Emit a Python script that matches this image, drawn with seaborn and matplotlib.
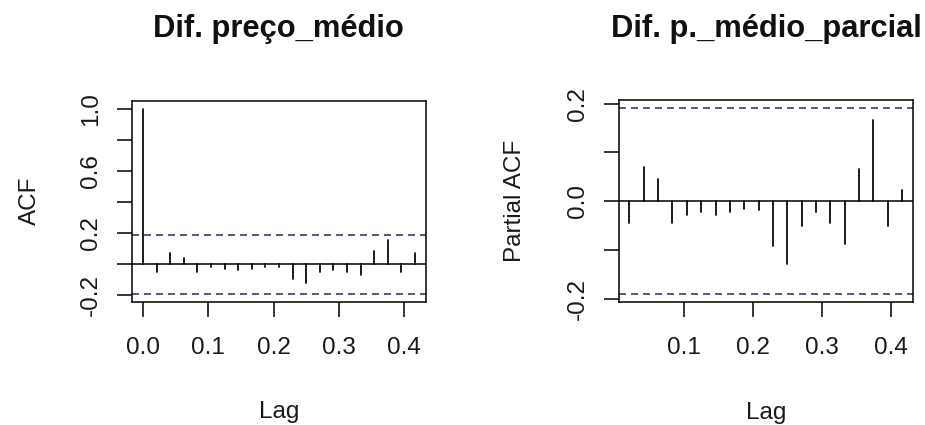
import numpy as np
import pandas as pd
import matplotlib
matplotlib.use("Agg")
import matplotlib.pyplot as plt
import seaborn as sns

# ---- data ----
frequency = 48
acf_lag_numbers = list(range(0, 21))
acf_values = [1.0, -0.049, 0.075, 0.043, -0.049, -0.019, -0.030, -0.039, -0.032, -0.019,
              -0.019, -0.092, -0.122, -0.049, -0.039, -0.049, -0.071, 0.086, 0.159, -0.049, 0.075]
pacf_lag_numbers = list(range(1, 21))
pacf_values = [-0.045, 0.071, 0.045, -0.045, -0.028, -0.022, -0.028, -0.022, -0.015, -0.018,
               -0.092, -0.128, -0.051, -0.022, -0.045, -0.088, 0.066, 0.166, -0.051, 0.022]
conf_limit = 0.19
titles = ["Dif. preço_médio", "Dif. p._médio_parcial"]
ylabels = ["ACF", "Partial ACF"]
xlabel = "Lag"
acf_xticks = [0.0, 0.1, 0.2, 0.3, 0.4]
acf_xticklabels = ["0.0", "0.1", "0.2", "0.3", "0.4"]
acf_yticks = [-0.2, 0.0, 0.2, 0.4, 0.6, 0.8, 1.0]
acf_yticklabels = ["-0.2", "", "0.2", "", "0.6", "", "1.0"]
pacf_xticks = [0.1, 0.2, 0.3, 0.4]
pacf_xticklabels = ["0.1", "0.2", "0.3", "0.4"]
pacf_yticks = [-0.2, -0.1, 0.0, 0.1, 0.2]
pacf_yticklabels = ["-0.2", "", "0.0", "", "0.2"]

sns.set_theme(style="white")
plt.rcParams["font.family"] = ["Liberation Sans", "DejaVu Sans"]

FS = 17.5
TFS = 22.2
CI_COLOR = "#3a3a78"
TXT = "#1a1a1a"


def stems(lag_numbers, values):
    rows = []
    for k, v in zip(lag_numbers, values):
        lag = k / frequency
        rows.append({"lag": lag, "val": 0.0, "id": k})
        rows.append({"lag": lag, "val": v, "id": k})
    return pd.DataFrame(rows)


fig = plt.figure(figsize=(9.25, 4.25), dpi=100)
fig.patch.set_facecolor("white")
ax1 = fig.add_axes([0.1424, 0.2901, 0.3178, 0.4730])
ax2 = fig.add_axes([0.6692, 0.2901, 0.3178, 0.4753])

panels = [
    (ax1, stems(acf_lag_numbers, acf_values), (-0.0173, 0.433), (-0.241, 1.053),
     acf_xticks, acf_xticklabels, acf_yticks, acf_yticklabels),
    (ax2, stems(pacf_lag_numbers, pacf_values), (0.0057, 0.4325), (-0.206, 0.208),
     pacf_xticks, pacf_xticklabels, pacf_yticks, pacf_yticklabels),
]

for i, (ax, df, xl, yl, xt, xtl, yt, ytl) in enumerate(panels):
    sns.lineplot(data=df, x="lag", y="val", units="id", estimator=None,
                 color="black", linewidth=1.25, ax=ax, legend=False)
    ax.axhline(0, color="black", linewidth=1.1)
    ax.axhline(conf_limit, color=CI_COLOR, linewidth=1.2, linestyle=(0, (4.2, 3.0)))
    ax.axhline(-conf_limit, color=CI_COLOR, linewidth=1.2, linestyle=(0, (4.2, 3.0)))
    ax.set_xlim(*xl)
    ax.set_ylim(*yl)
    ax.set_xticks(xt)
    ax.set_xticklabels(xtl, fontsize=FS, color=TXT)
    ax.set_yticks(yt)
    ax.set_yticklabels(ytl, fontsize=FS, rotation=90, va="center", color=TXT)
    ax.tick_params(axis="both", direction="out", length=10.5, width=1.1, color="black",
                   bottom=True, left=True)
    ax.tick_params(axis="x", pad=15)
    ax.tick_params(axis="y", pad=11)
    for s in ax.spines.values():
        s.set_visible(True)
        s.set_color("black")
        s.set_linewidth(1.1)
    ax.set_xlabel(xlabel, fontsize=FS, color=TXT, va="center")
    ax.xaxis.set_label_coords(0.5, -0.551)
    ax.set_ylabel(ylabels[i], fontsize=FS, color=TXT, va="center")
    ax.yaxis.set_label_coords(-0.346 if i == 0 else -0.354, 0.5)
    ax.grid(False)
    pos = ax.get_position()
    fig.text((pos.x0 + pos.x1) / 2, 1 - 36.7 / 425, titles[i], ha="center", va="baseline",
             fontsize=TFS, fontweight="bold", color="#111111")

fig.savefig("out.png", dpi=100, facecolor="white")
